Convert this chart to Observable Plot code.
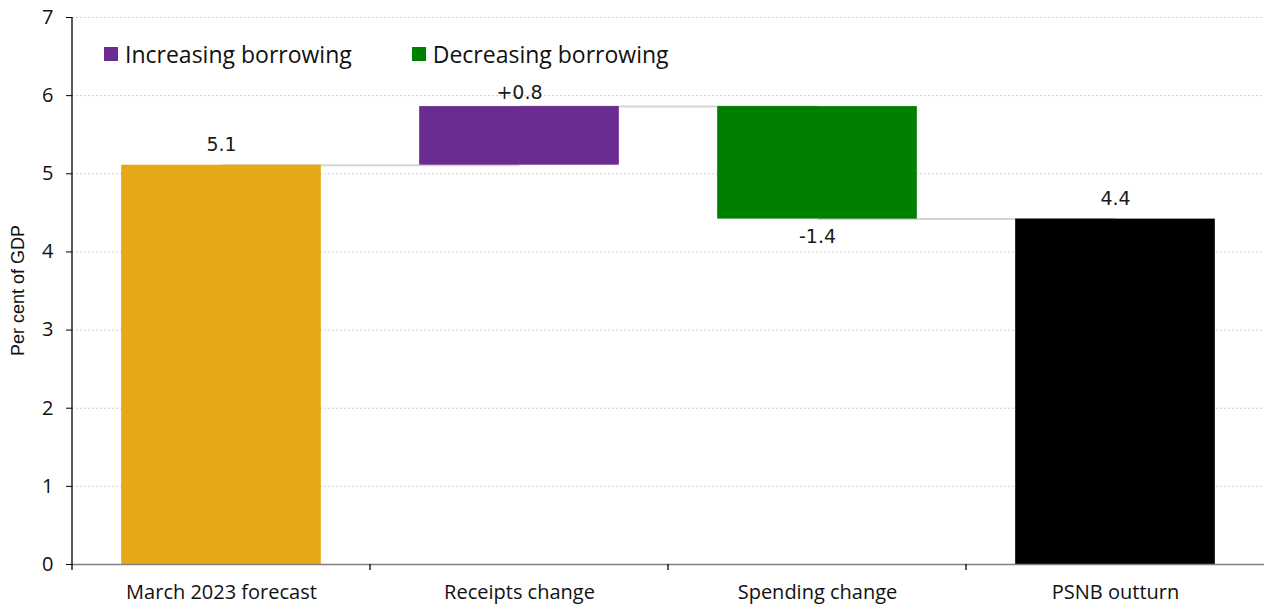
<!DOCTYPE html>
<html>
<head>
<meta charset="utf-8">
<script src="https://cdn.jsdelivr.net/npm/d3@7"></script>
<script src="https://cdn.jsdelivr.net/npm/@observablehq/plot@0.6"></script>
<style>
  body { margin: 0; background: #fff; }
  #chart { position: relative; width: 1264px; height: 605px; font-family: "Open Sans", "Noto Sans", sans-serif; color: #111; }
  #legend { position: absolute; top: 42px; left: 104px; display: flex; align-items: center; font-size: 23px; line-height: 24px; }
  #legend .item { display: flex; align-items: center; margin-right: 60px; }
  #legend .sw { display: inline-block; width: 14px; height: 14px; margin-right: 7px; }
</style>
</head>
<body>
<div id="chart"><div id="legend"></div></div>
<script>
// Borrowing bridge: March 2023 forecast to PSNB outturn, per cent of GDP
const categories = ["March 2023 forecast", "Receipts change", "Spending change", "PSNB outturn"];
const values = [5.11, 0.75, -1.44, 4.42];
const kinds = ["total", "change", "change", "total"];
const yTicks = [0, 1, 2, 3, 4, 5, 6, 7];
const legendLabels = ["Increasing borrowing", "Decreasing borrowing"];

const typeDomain = ["forecast", "increase", "decrease", "outturn"];
const typeColors = ["#E6A817", "#6A2C91", "#008000", "#000000"];

// Build the waterfall segments from the running total
let running = 0;
const rows = categories.map((category, i) => {
  const v = values[i];
  let y1, y2, type, label;
  if (kinds[i] === "total") {
    y1 = 0; y2 = v; running = v;
    type = i === 0 ? "forecast" : "outturn";
    label = v.toFixed(1);
  } else {
    y1 = running; y2 = running + v; running = y2;
    type = v >= 0 ? "increase" : "decrease";
    label = (v >= 0 ? "+" : "") + v.toFixed(1);
  }
  return {category, y1, y2, type, label, top: Math.max(y1, y2), bottom: Math.min(y1, y2), level: running};
});
const links = rows.slice(0, -1).map((r, i) => ({from: r.category, to: rows[i + 1].category, level: r.level}));

const valueFont = {fontFamily: "'DejaVu Sans', sans-serif", fontSize: 19, fill: "#1a1a1a"};

const plot = Plot.plot({
  width: 1264,
  height: 605,
  marginLeft: 72,
  marginRight: 0,
  marginTop: 17,
  marginBottom: 41,
  style: {fontFamily: "'Open Sans', 'Noto Sans', sans-serif", color: "#111", background: "#fff"},
  x: {domain: categories, paddingInner: 0.33, paddingOuter: 0.165, round: false},
  y: {domain: [0, 7]},
  color: {domain: typeDomain, range: typeColors},
  marks: [
    Plot.gridY(yTicks.filter(d => d > 0), {stroke: "#cfcfcf", strokeOpacity: 1, strokeDasharray: "2,2"}),
    Plot.link(links, {x1: "from", x2: "to", y1: "level", y2: "level", stroke: "#d4d4d4", strokeWidth: 2}),
    Plot.barY(rows, {x: "category", y1: "y1", y2: "y2", fill: "type"}),
    Plot.ruleY([0], {stroke: "#808080", strokeWidth: 1.5}),
    // totals labelled above the bar top
    Plot.text(rows.filter(r => r.type === "forecast" || r.type === "outturn"), {
      x: "category", y: "top", text: "label", dy: -20, ...valueFont
    }),
    Plot.text(rows.filter(r => r.type === "increase"), {
      x: "category", y: "top", text: "label", dy: -14, ...valueFont
    }),
    Plot.text(rows.filter(r => r.type === "decrease"), {
      x: "category", y: "bottom", text: "label", dy: 18, ...valueFont
    }),
    Plot.axisY({
      ticks: yTicks, tickFormat: d3.format("d"), tickSize: 6, tickPadding: 13, fontSize: 20,
      stroke: "#000", label: null
    }),
    Plot.axisX({tickSize: 0, tickPadding: 20, fontSize: 20, label: null})
  ]
});

document.getElementById("chart").appendChild(plot);

// Axis line on the left, tick marks at the category boundaries, and the y-axis title
const svg = d3.select(plot);
const xs = plot.scale("x");
const ys = plot.scale("y");
const y0 = ys.apply(0);
const gap = (xs.step - xs.bandwidth) / 2;
const g = svg.append("g").attr("stroke", "#000").attr("stroke-width", 1.3);
g.append("line")
  .attr("x1", xs.range[0]).attr("x2", xs.range[0])
  .attr("y1", ys.apply(7)).attr("y2", y0 + 6);
categories.slice(1).forEach(c => {
  const bx = xs.apply(c) - gap;
  g.append("line").attr("x1", bx).attr("x2", bx).attr("y1", y0).attr("y2", y0 + 6);
});
svg.append("text")
  .attr("transform", `translate(24,${(ys.apply(7) + y0) / 2}) rotate(-90)`)
  .attr("text-anchor", "middle")
  .attr("font-family", "'Liberation Sans', Arial, sans-serif")
  .attr("font-size", 18)
  .attr("fill", "#111")
  .text("Per cent of GDP");

// Legend
const legend = d3.select("#legend");
legendLabels.forEach((label, i) => {
  const item = legend.append("div").attr("class", "item");
  item.append("span").attr("class", "sw").style("background", typeColors[i + 1]);
  item.append("span").text(label);
});
</script>
</body>
</html>
